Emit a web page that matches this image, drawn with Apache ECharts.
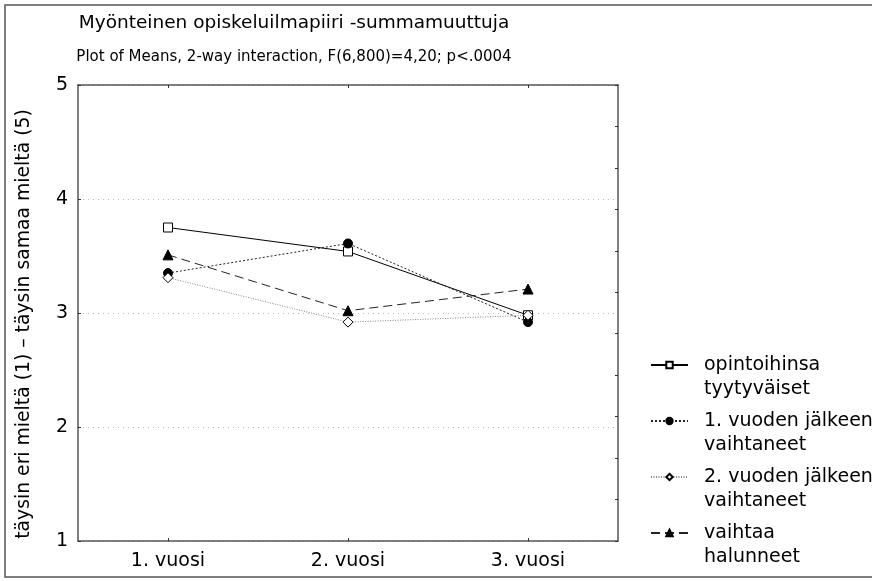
<!DOCTYPE html>
<html>
<head>
<meta charset="utf-8">
<script src="https://cdn.jsdelivr.net/npm/echarts@6/dist/echarts.min.js"></script>
<style>html,body{margin:0;padding:0;background:#fff;}#c{width:872px;height:581px;}</style>
</head>
<body>
<div id="c"></div>
<script>
const categories = ['1. vuosi', '2. vuosi', '3. vuosi'];
const yTicks = [1, 2, 3, 4, 5];
const seriesNames = ['opintoihinsa tyytyväiset', '1. vuoden jälkeen vaihtaneet', '2. vuoden jälkeen vaihtaneet', 'vaihtaa halunneet'];
const legendLabels = ['opintoihinsa\ntyytyväiset', '1. vuoden jälkeen\nvaihtaneet', '2. vuoden jälkeen\nvaihtaneet', 'vaihtaa\nhalunneet'];
const tyytyvaiset = [3.75, 3.54, 2.98];
const vaihtaneet1 = [3.35, 3.61, 2.92];
const vaihtaneet2 = [3.31, 2.92, 2.98];
const halunneet = [3.51, 3.02, 3.21];

const FONT = 'DejaVu Sans';
const chart = echarts.init(document.getElementById('c'), null, {renderer: 'canvas'});

function mkSeries(name, data, symbol, size, fill, lineColor, lineType, symColor) {
  return {
    name: name, type: 'line', data: data, xAxisIndex: 0, yAxisIndex: 0,
    symbol: symbol, symbolSize: size, showSymbol: true,
    color: lineColor,
    lineStyle: {color: lineColor, width: 1, type: lineType},
    itemStyle: {color: fill, borderColor: symColor, borderWidth: 1, opacity: 1},
    emphasis: {disabled: true},
    animation: false
  };
}

chart.setOption({
  animation: false,
  backgroundColor: '#fff',
  textStyle: {fontFamily: FONT, color: '#000'},
  title: [
    {text: 'Myönteinen opiskeluilmapiiri -summamuuttuja', left: 289, top: 9, textAlign: 'center',
     textStyle: {fontFamily: FONT, fontSize: 18.5, fontWeight: 'normal', color: '#000'}},
    {text: 'Plot of Means, 2-way interaction, F(6,800)=4,20; p<.0004', left: 289, top: 45, textAlign: 'center',
     textStyle: {fontFamily: FONT, fontSize: 15, fontWeight: 'normal', color: '#000'}}
  ],
  grid: {left: 78, right: 254, top: 85, bottom: 40, containLabel: false},
  legend: {
    orient: 'vertical', left: 645, top: 324,
    itemWidth: 37, itemHeight: 8, itemGap: -16,
    data: seriesNames,
    formatter: function (n) { return '\n' + legendLabels[seriesNames.indexOf(n)]; },
    textStyle: {fontFamily: FONT, fontSize: 19, lineHeight: 24, color: '#000', padding: [0, 0, 0, 11]},
    selectedMode: false
  },
  graphic: [
    {type: 'rect', shape: {x: 5, y: 5, width: 900, height: 572},
     style: {fill: 'none', stroke: '#555', lineWidth: 1.5}, silent: true, z: -1}
  ],
  xAxis: [
    {type: 'category', data: categories, position: 'bottom', boundaryGap: true,
     axisLine: {show: true, onZero: false, lineStyle: {color: '#555', width: 1.5}},
     axisTick: {show: true, inside: true, alignWithLabel: true, length: 3, lineStyle: {color: '#333'}},
     axisLabel: {fontFamily: FONT, fontSize: 19, color: '#000', margin: 11},
     splitLine: {show: false}},
    {type: 'category', data: categories, position: 'top', boundaryGap: true,
     axisLine: {show: true, onZero: false, lineStyle: {color: '#555', width: 1.5}},
     axisTick: {show: true, inside: true, alignWithLabel: true, length: 3, lineStyle: {color: '#333'}},
     axisLabel: {show: false}, splitLine: {show: false}}
  ],
  yAxis: [
    {type: 'value', min: yTicks[0], max: yTicks[yTicks.length - 1], interval: 1, position: 'left',
     name: 'täysin eri mieltä (1) – täysin samaa mieltä (5)', nameLocation: 'middle', nameGap: 44,
     nameTextStyle: {fontFamily: FONT, fontSize: 18.8, color: '#000', padding: [0, 22, 0, 0]},
     axisLine: {show: true, onZero: false, lineStyle: {color: '#555', width: 1.5}},
     axisTick: {show: true, inside: true, length: 3, lineStyle: {color: '#333'}},
     axisLabel: {fontFamily: FONT, fontSize: 19, color: '#000', margin: 10},
     splitLine: {show: true, lineStyle: {color: '#bbb', width: 1, type: [1, 4]}}},
    {type: 'value', min: 0, max: 11, interval: 1, position: 'right',
     axisLine: {show: true, onZero: false, lineStyle: {color: '#555', width: 1.5}},
     axisTick: {show: true, inside: true, length: 3, lineStyle: {color: '#333'}},
     axisLabel: {show: false}, splitLine: {show: false}}
  ],
  series: [
    mkSeries(seriesNames[0], tyytyvaiset, 'rect', 9, '#fff', '#000', 'solid', '#000'),
    mkSeries(seriesNames[1], vaihtaneet1, 'circle', 9, '#000', '#222', [2, 2], '#000'),
    mkSeries(seriesNames[2], vaihtaneet2, 'diamond', 10, '#fff', '#888', [1, 1.5], '#000'),
    mkSeries(seriesNames[3], halunneet, 'triangle', 10, '#000', '#222', [9, 5], '#000')
  ]
});
</script>
</body>
</html>
